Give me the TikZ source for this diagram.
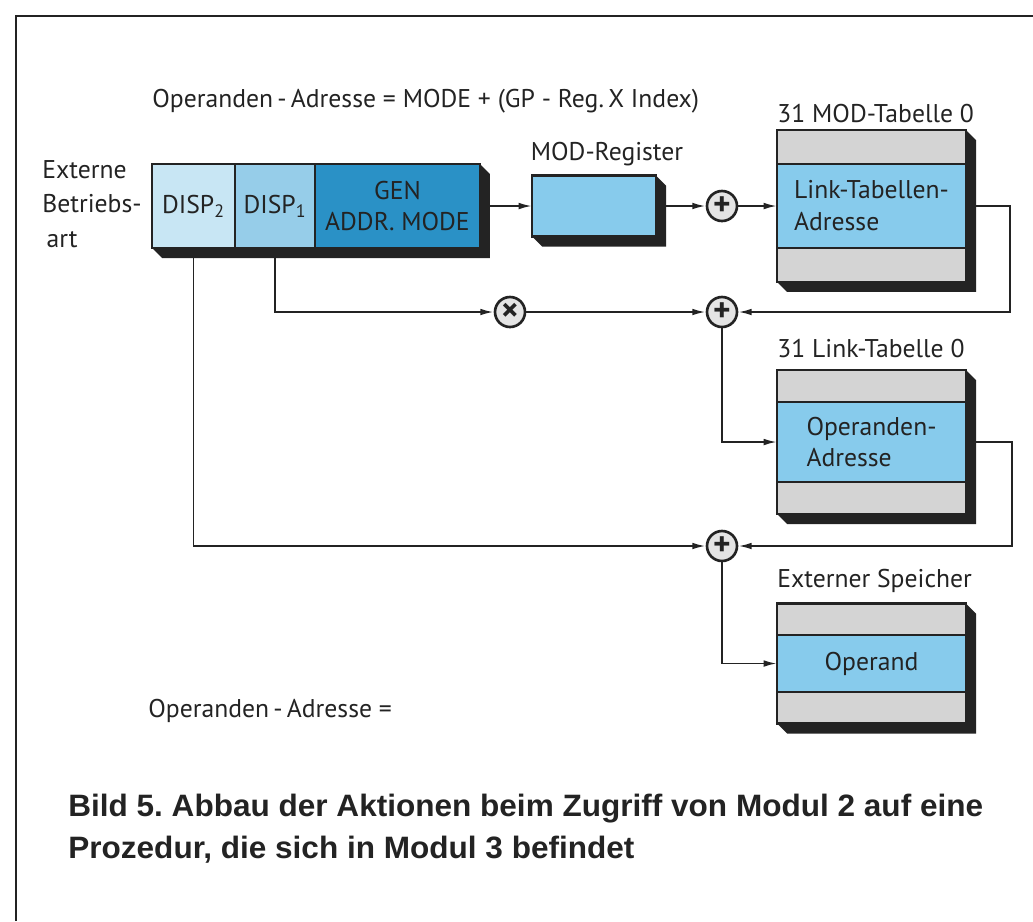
\documentclass[tikz,border=0pt]{standalone}
\usepackage{fontspec}
\setmainfont{PT Sans}
\newfontfamily\capfont[FakeStretch=1.02]{Liberation Sans}
\usepackage{tikz}
\usetikzlibrary{arrows.meta, positioning, backgrounds, calc}

\definecolor{celllight}{RGB}{200,230,244}
\definecolor{cellmid}{RGB}{150,205,233}
\definecolor{celldark}{RGB}{42,145,198}
\definecolor{tabblue}{RGB}{135,203,236}
\definecolor{tabgray}{RGB}{212,212,212}
\definecolor{sumgray}{RGB}{228,228,228}
\definecolor{ink}{RGB}{35,35,35}

\begin{document}
\begin{tikzpicture}[
    x=0.02cm, y=-0.02cm,
    every node/.style={font=\fontsize{14.6}{18.2}\selectfont, text=ink},
    cell/.style={rectangle, draw=ink, line width=1.6pt, minimum height=1.68cm, outer sep=0pt, inner sep=2pt, align=center},
    tabrow/.style={rectangle, draw=ink, line width=1.6pt, fill=tabgray, minimum width=3.78cm, outer sep=0pt},
    tabentry/.style={rectangle, draw=ink, line width=1.6pt, fill=tabblue, minimum width=3.78cm, outer sep=0pt, align=left},
    sum/.style={circle, draw=ink, line width=1.5pt, fill=sumgray, minimum size=0.6cm, inner sep=0pt, font=\fontsize{19}{19}\selectfont\bfseries},
    lbl/.style={anchor=base west, inner sep=0pt},
    arrow/.style={-{Latex[length=7.6pt,width=3.8pt]}, line width=1.1pt, draw=ink}
]
\useasboundingbox (0,0) rectangle (1033,921);

% frame
\draw[line width=1.1pt, ink] (16,921) -- (16,16) -- (1033,16);

% formula
\node (formula) [lbl] at (152,107) {Operanden\,-\,Adresse = MODE + (GP - Reg.\,X Index)};

% instruction register
\node (extmode) [anchor=west, inner sep=0pt, align=left, font=\fontsize{14.6}{19.5}\selectfont] at (42,204) {Externe\\Betriebs-\\\,art};
\node (disp2) [cell, fill=celllight, minimum width=1.66cm] at (193.5,206) {DISP\textsubscript{2}};
\node (disp1) [cell, fill=cellmid, minimum width=1.6cm, right=0pt of disp2] {DISP\textsubscript{1}};
\node (gen) [cell, fill=celldark, minimum width=3.3cm, right=0pt of disp1] {GEN\\ADDR.~MODE};

% MOD register
\node (modreg) [cell, fill=tabblue, minimum width=2.48cm, minimum height=1.22cm] at (594,206) {};
\node (modreglbl) [lbl, anchor=base] at (607,160) {MOD-Register};

% adders
\node (sum1) [sum] at (722,206) {+};
\node (mul) [sum] at (510,312) {×};
\node (sum2) [sum] at (722,312) {+};
\node (sum3) [sum] at (722,546) {+};

% MOD table
\node (modtab) [tabentry, minimum height=1.68cm] at (871.5,206) {Link-Tabellen-\\Adresse};
\node (modtabtop) [tabrow, minimum height=0.68cm, above=0pt of modtab] {};
\node (modtabbot) [tabrow, minimum height=0.68cm, below=0pt of modtab] {};
\node (modtablbl) [lbl] at (777,122) {31 MOD-Tabelle 0};

% link table
\node (linktab) [tabentry, minimum height=1.6cm] at (871.5,442) {Operanden-\\Adresse};
\node (linktabtop) [tabrow, minimum height=0.64cm, above=0pt of linktab] {};
\node (linktabbot) [tabrow, minimum height=0.64cm, below=0pt of linktab] {};
\node (linktablbl) [lbl] at (777,357) {31 Link-Tabelle 0};

% external memory
\node (extmem) [tabentry, minimum height=1.14cm] at (871.5,663.5) {Operand};
\node (extmemtop) [tabrow, minimum height=0.63cm, above=0pt of extmem] {};
\node (extmembot) [tabrow, minimum height=0.63cm, below=0pt of extmem] {};
\node (extmemlbl) [lbl] at (777,587) {Externer Speicher};

\node (result) [lbl] at (148,717) {Operanden\,-\,Adresse =};

% caption
\node (caption) [anchor=west, inner sep=0pt, align=left, font=\capfont\bfseries\fontsize{17.6}{23.9}\selectfont\frenchspacing] at (68,829)
    {Bild 5. Abbau der Aktionen beim Zugriff von Modul 2 auf eine\\Prozedur, die sich in Modul 3 befindet};

% shadows
\begin{scope}[on background layer]
\foreach \l/\r/\t in {disp2/gen/gen, modreg/modreg/modreg, modtabbot/modtabbot/modtabtop, linktabbot/linktabbot/linktabtop, extmembot/extmembot/extmemtop}
  \fill[ink] (\l.south west) -- ++(10,10) -- ($(\r.south east)+(10,10)$) -- ($(\t.north east)+(10,10)$) -- (\t.north east) -- cycle;
\end{scope}

% connections
\draw [arrow] (gen) -- (modreg);
\draw [arrow] (modreg) -- (sum1);
\draw [arrow] (sum1) -- (modtab);
\draw [arrow] (modtab.east) -- ++(44,0) |- (sum2);
\draw [arrow] (disp1.south) |- (mul);
\draw [arrow] (mul) -- (sum2);
\draw [arrow] (sum2) |- (linktab);
\draw [arrow] (linktab.east) -- ++(46,0) |- (sum3);
\draw [arrow] (disp2.south) |- (sum3);
\draw [arrow] (sum3) |- (extmem);

\end{tikzpicture}
\end{document}
